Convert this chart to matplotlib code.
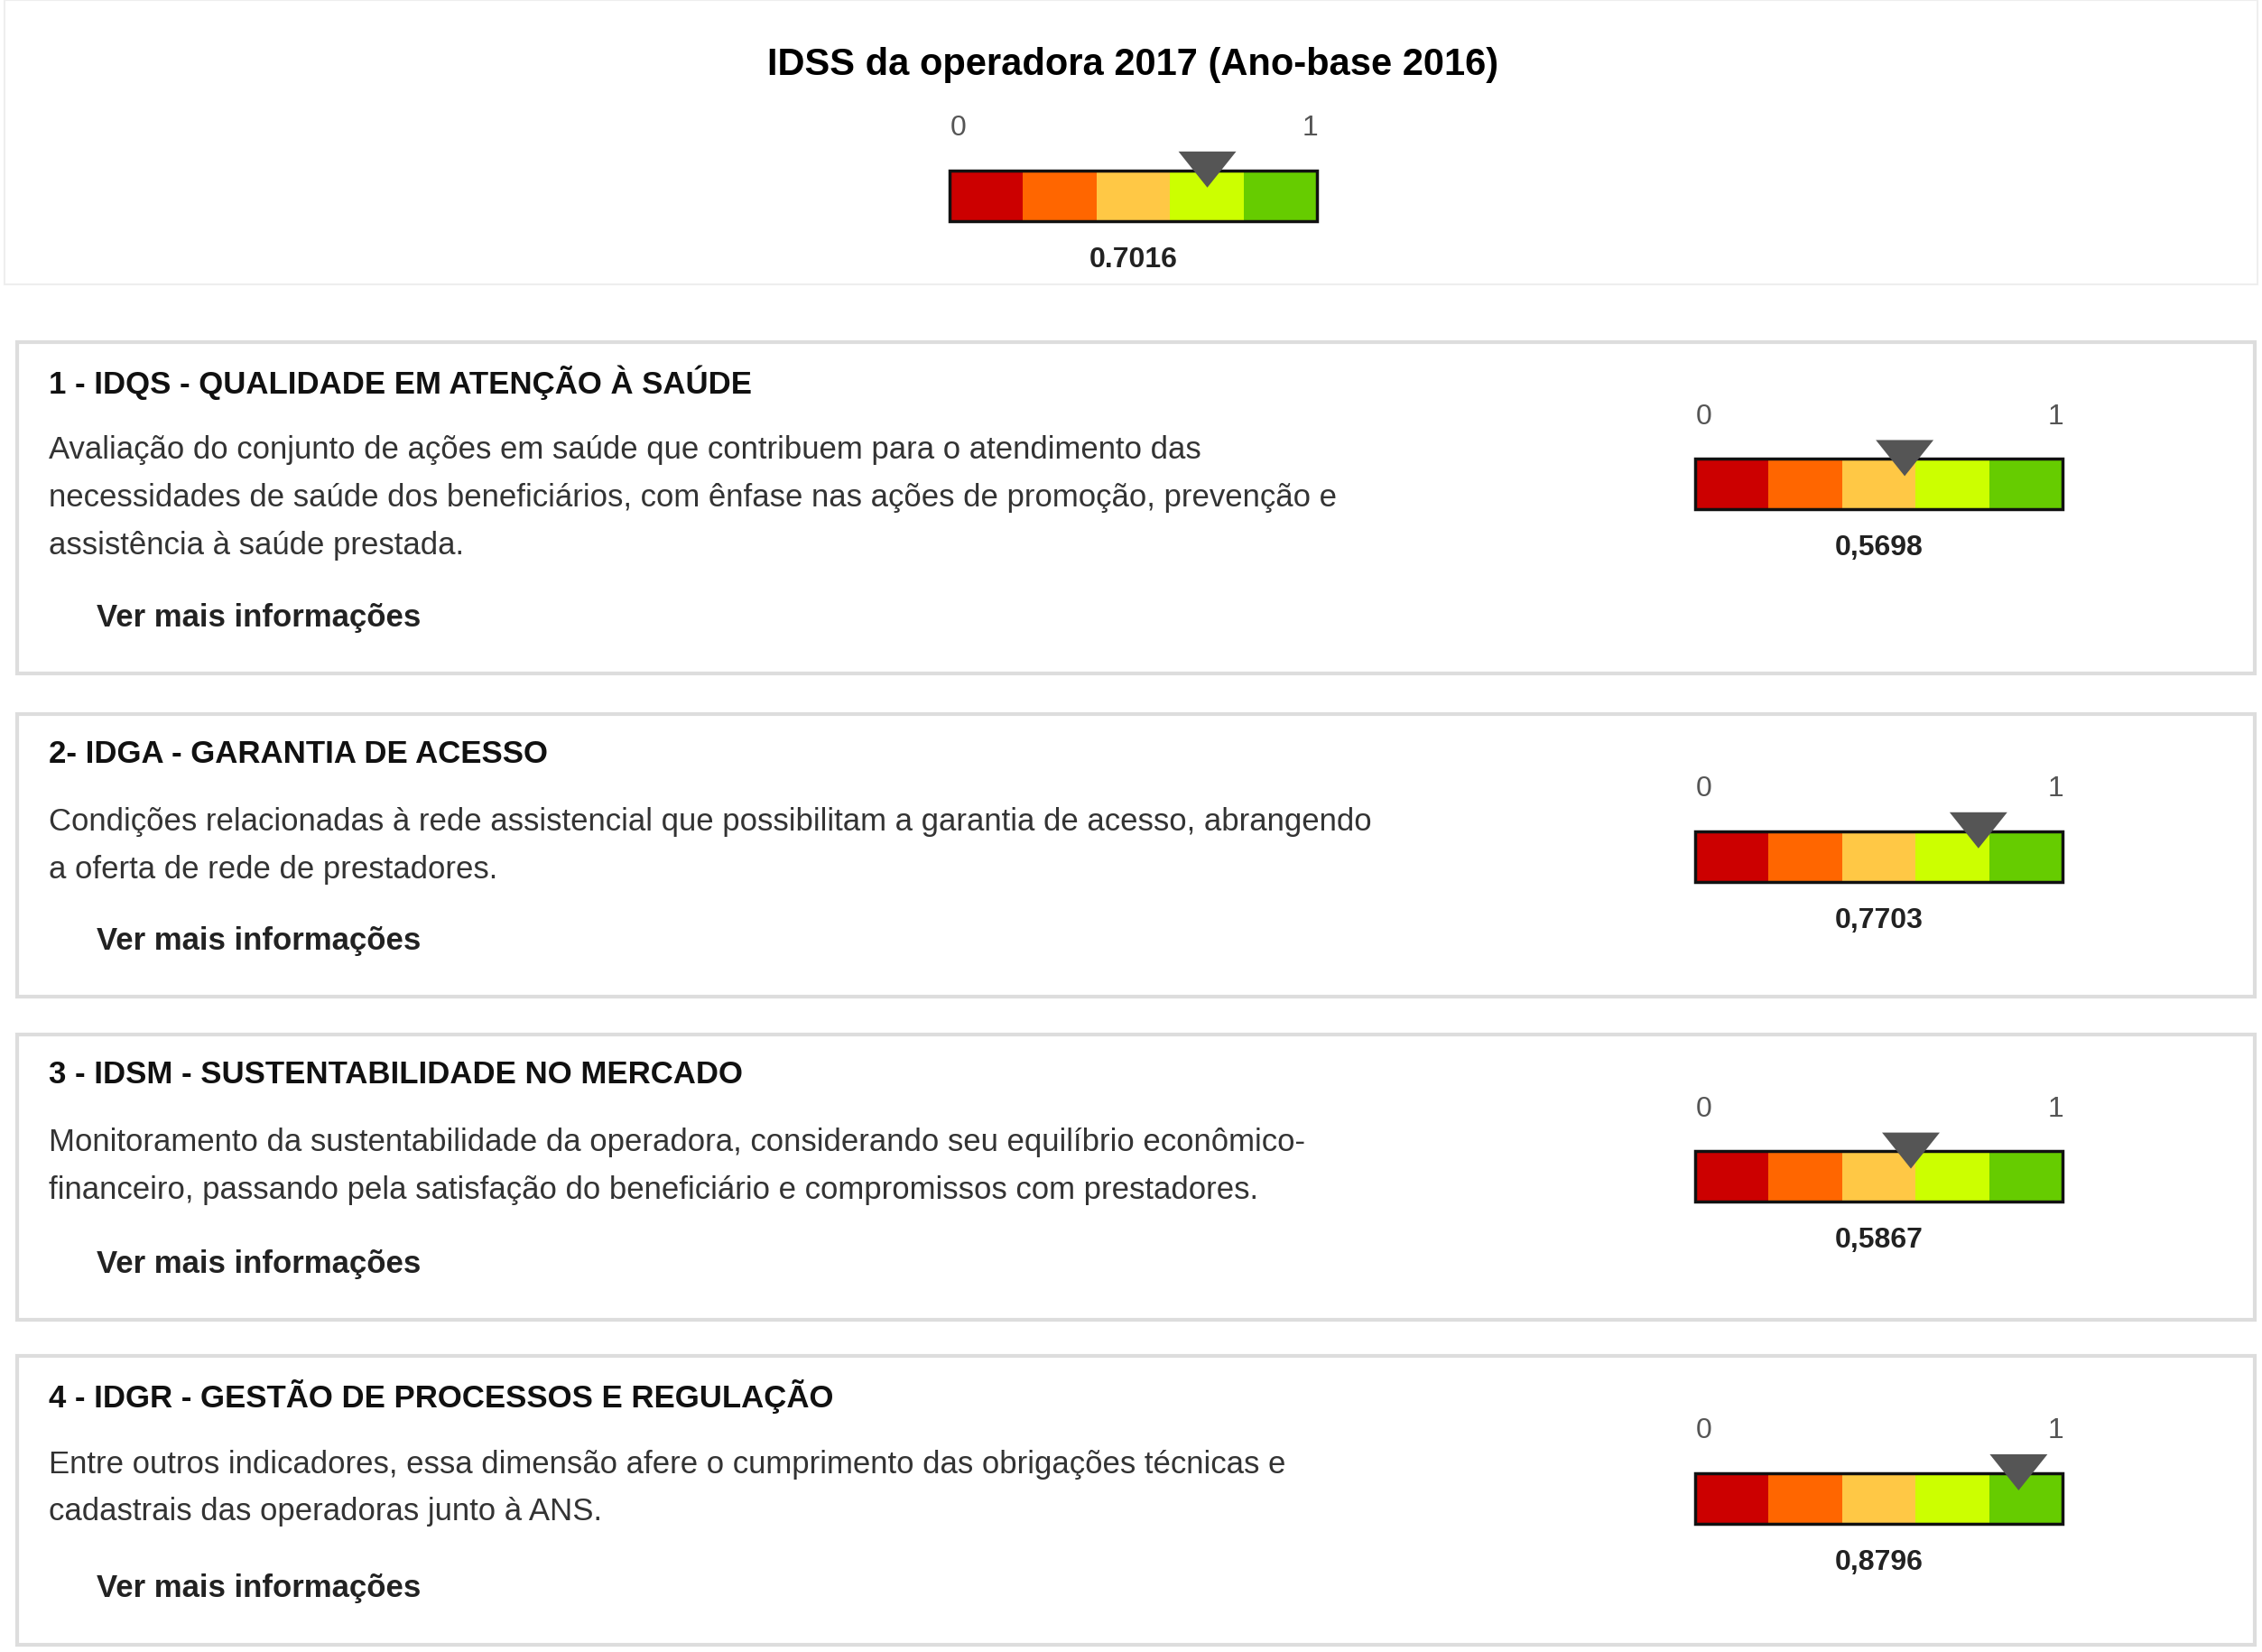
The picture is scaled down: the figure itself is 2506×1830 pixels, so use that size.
import matplotlib

matplotlib.use("Agg")
import matplotlib.pyplot as plt
from matplotlib.patches import Rectangle, Polygon

plt.rcParams["font.family"] = ["Liberation Sans", "DejaVu Sans"]

W, H = 2506, 1830
S = W / 1568  # layout measured on a 1568 px wide view

SEG_COLORS = ["#CC0000", "#FF6600", "#FFC845", "#CCFF00", "#66CC00"]

main_title = "IDSS da operadora 2017 (Ano-base 2016)"
main_value = 0.7016

titles = [
    "1 - IDQS - QUALIDADE EM ATENÇÃO À SAÚDE",
    "2- IDGA - GARANTIA DE ACESSO",
    "3 - IDSM - SUSTENTABILIDADE NO MERCADO",
    "4 - IDGR - GESTÃO DE PROCESSOS E REGULAÇÃO",
]
descriptions = [
    ["Avaliação do conjunto de ações em saúde que contribuem para o atendimento das",
     "necessidades de saúde dos beneficiários, com ênfase nas ações de promoção, prevenção e",
     "assistência à saúde prestada."],
    ["Condições relacionadas à rede assistencial que possibilitam a garantia de acesso, abrangendo",
     "a oferta de rede de prestadores."],
    ["Monitoramento da sustentabilidade da operadora, considerando seu equilíbrio econômico-",
     "financeiro, passando pela satisfação do beneficiário e compromissos com prestadores."],
    ["Entre outros indicadores, essa dimensão afere o cumprimento das obrigações técnicas e",
     "cadastrais das operadoras junto à ANS."],
]
values = [0.5698, 0.7703, 0.5867, 0.8796]
value_labels = ["0,5698", "0,7703", "0,5867", "0,8796"]

# panel geometry (top, bottom) in the 1568-wide view
panel_tops = [237, 495, 717, 940]
panel_bottoms = [467, 691, 915, 1140]

fig = plt.figure(figsize=(W / 100, H / 100), dpi=100)
ax = fig.add_axes([0, 0, 1, 1])
ax.set_xlim(0, W)
ax.set_ylim(H, 0)
ax.axis("off")


def p(v):
    return v * S


def gauge(x0, y0, value, label):
    w, h = 255, 35
    seg = w / len(SEG_COLORS)
    for i, c in enumerate(SEG_COLORS):
        ax.add_patch(Rectangle((p(x0 + i * seg), p(y0)), p(seg), p(h), color=c, lw=0))
    ax.add_patch(Rectangle((p(x0), p(y0)), p(w), p(h), fill=False, ec="#111111", lw=2.5))
    ax.text(p(x0 + 6), p(y0 - 29), "0", fontsize=23, color="#555555", ha="center", va="center")
    ax.text(p(x0 + w - 5), p(y0 - 29), "1", fontsize=23, color="#555555", ha="center", va="center")
    mx = x0 + value * w
    ax.add_patch(Polygon([(p(mx - 20), p(y0 - 13)), (p(mx + 20), p(y0 - 13)), (p(mx), p(y0 + 12))],
                         closed=True, color="#555555", lw=0))
    ax.text(p(x0 + w / 2), p(y0 + 62), label, fontsize=23, fontweight="bold",
            color="#222222", ha="center", va="center")


# header
ax.add_patch(Rectangle((p(3), p(0)), p(1562), p(197), fill=False, ec="#EEEEEE", lw=1.5))
ax.text(p(785), p(45), main_title, fontsize=30, fontweight="bold", ha="center", va="center")
gauge(658, 118, main_value, f"{main_value:.4f}")

# panels
for k in range(len(titles)):
    top, bot = panel_tops[k], panel_bottoms[k]
    ax.add_patch(Rectangle((p(12), p(top)), p(1551), p(bot - top), fill=False, ec="#DDDDDD", lw=3))
    ax.text(p(34), p(top + 28), titles[k], fontsize=25, fontweight="bold", color="#111111", va="center")
    for j, line in enumerate(descriptions[k]):
        ax.text(p(34), p(top + 75 + 33 * j), line, fontsize=25, color="#333333", va="center")
    ax.text(p(67), p(bot - 39), "Ver mais informações", fontsize=25, fontweight="bold",
            color="#222222", va="center")
    gauge(1175, top + 81, values[k], value_labels[k])

fig.savefig("out.png", dpi=100)
